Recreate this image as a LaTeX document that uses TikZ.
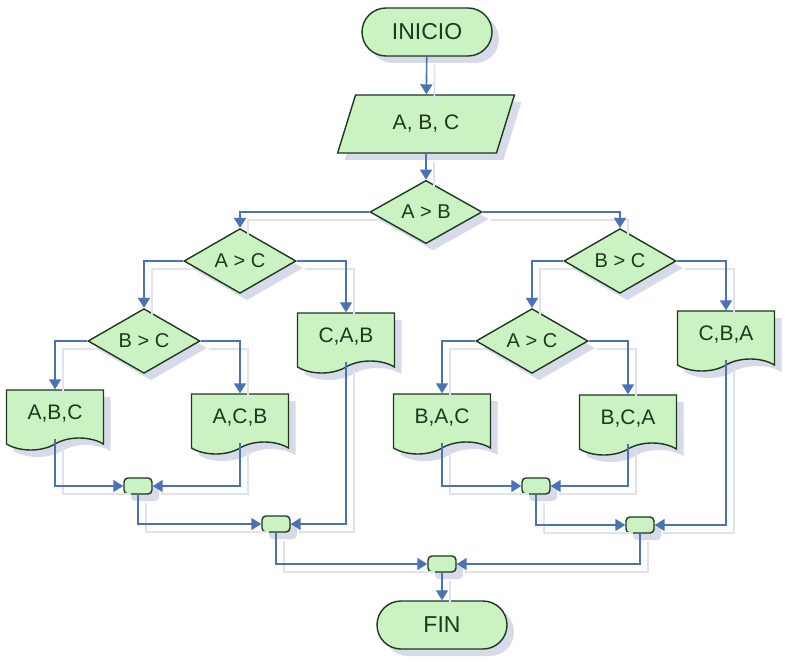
\documentclass[tikz,border=0pt]{standalone}
\usepackage{fontspec}
\setmainfont{Liberation Sans}
\usetikzlibrary{shapes.geometric,shapes.misc,shapes.symbols,arrows.meta,shadows}

\definecolor{boxfill}{HTML}{CBF2C3}
\definecolor{boxline}{HTML}{1E381E}
\definecolor{flowblue}{HTML}{4A72B8}
\definecolor{shadowgray}{HTML}{D3D6E6}
\definecolor{lineshadow}{HTML}{E0E2EC}

\tikzset{
  box/.style={draw=boxline, fill=boxfill, line width=1.4pt, text=boxline,
    font=\fontsize{21}{25}\selectfont, inner sep=0pt,
    drop shadow={shadow xshift=7pt, shadow yshift=-7pt, fill=shadowgray, opacity=.9}},
  terminal/.style={box, rounded rectangle, minimum width=130, minimum height=48,
    font=\fontsize{23}{27}\selectfont},
  inout/.style={box, trapezium, trapezium left angle=64, trapezium right angle=116,
    trapezium stretches=true, minimum width=178, minimum height=58},
  decision/.style={box, diamond, minimum width=112, minimum height=52,
    font=\fontsize{20}{24}\selectfont},
  printout/.style={box, tape, tape bend top=none, tape bend bottom=in and out,
    tape bend height=12pt, minimum width=97, minimum height=60},
  merge/.style={box, rectangle, rounded corners=4pt, minimum width=28, minimum height=16},
  flow/.style={draw=flowblue, line width=1.6pt, -{Triangle[length=10pt,width=12pt]},
    preaction={draw=lineshadow, line width=1.6pt, -, transform canvas={shift={(8pt,-8pt)}}}}
}

\begin{document}
\begin{tikzpicture}[x=1pt, y=-1pt]
	\useasboundingbox (0,0) rectangle (785,666);

	\node[terminal] (0) at (427,32) {INICIO};
	\node[inout] (1) at (426,124) {A, B, C};
	\node[decision] (2) at (426,212) {A > B};

	% A > B
	\node[decision] (3) at (240,261) {A > C};
	\node[decision] (4) at (620,261) {B > C};

	\node[decision] (5) at (144,341) {B > C};
	\node[printout] (6) at (346,337) {C,A,B};
	\node[decision] (7) at (532,341) {A > C};
	\node[printout] (8) at (726,335) {C,B,A};

	\node[printout] (9) at (55,414) {A,B,C};
	\node[printout] (10) at (240,418) {A,C,B};
	\node[printout] (11) at (442,418) {B,A,C};
	\node[printout] (12) at (628,419) {B,C,A};

	% joins
	\node[merge] (13) at (138,486) {};
	\node[merge] (14) at (276,524) {};
	\node[merge] (15) at (536,486) {};
	\node[merge] (16) at (640,525) {};
	\node[merge] (17) at (442,564) {};

	\node[terminal] (18) at (442,625) {FIN};

	\draw[flow] (0) -- (1);
	\draw[flow] (1) -- (2);
	\draw[flow] (2.west) -| (3.north);
	\draw[flow] (2.east) -| (4.north);
	\draw[flow] (3.west) -| (5.north);
	\draw[flow] (3.east) -| (6.north);
	\draw[flow] (4.west) -| (7.north);
	\draw[flow] (4.east) -| (8.north);
	\draw[flow] (5.west) -| (9.north);
	\draw[flow] (5.east) -| (10.north);
	\draw[flow] (7.west) -| (11.north);
	\draw[flow] (7.east) -| (12.north);

	\draw[flow] (9.south) |- (13.west);
	\draw[flow] (10.south) |- (13.east);
	\draw[flow] (11.south) |- (15.west);
	\draw[flow] (12.south) |- (15.east);
	\draw[flow] (13.south) |- (14.west);
	\draw[flow] (6.south) |- (14.east);
	\draw[flow] (15.south) |- (16.west);
	\draw[flow] (8.south) |- (16.east);
	\draw[flow] (14.south) |- (17.west);
	\draw[flow] (16.south) |- (17.east);
	\draw[flow] (17) -- (18);
\end{tikzpicture}
\end{document}
